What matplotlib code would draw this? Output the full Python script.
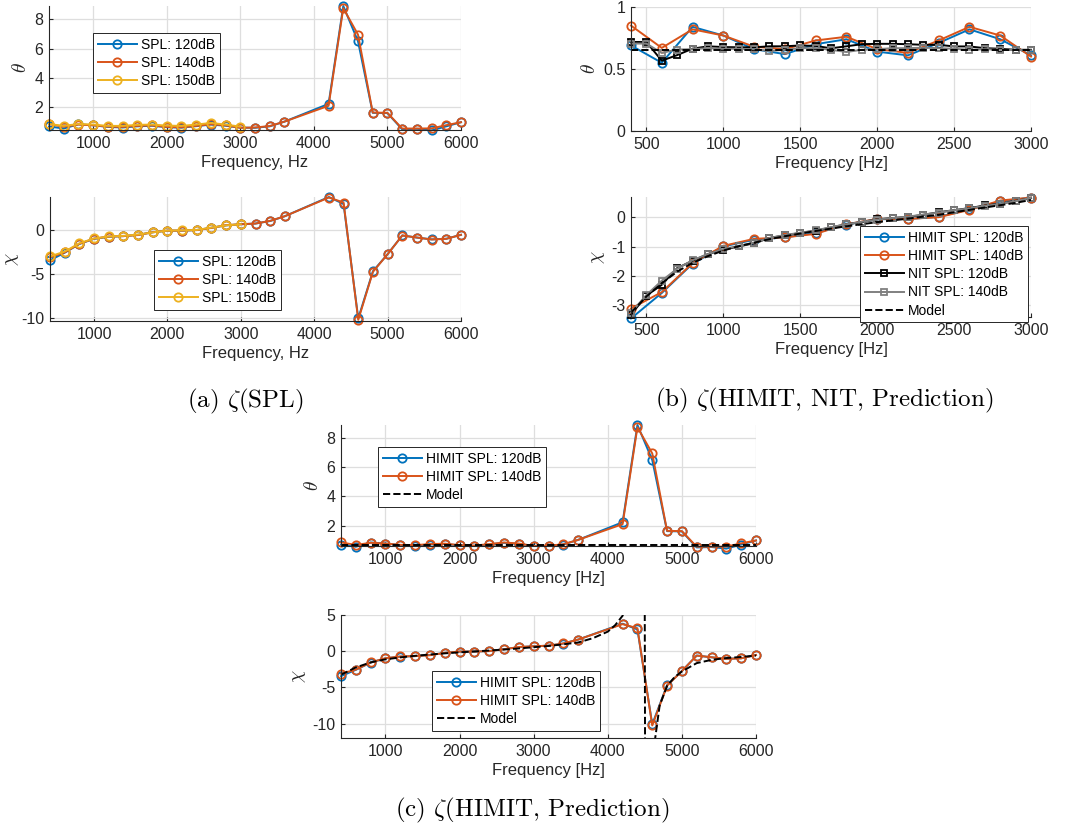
import matplotlib
matplotlib.use('Agg')
import matplotlib.pyplot as plt
from matplotlib.ticker import FormatStrFormatter

plt.rcParams['font.family'] = ['Liberation Sans', 'DejaVu Sans']
plt.rcParams['mathtext.fontset'] = 'cm'
plt.rcParams['axes.unicode_minus'] = False

# HIMIT frequencies (no points at 3800 and 4000 Hz)
f_himit = [400, 600, 800, 1000, 1200, 1400, 1600, 1800, 2000, 2200, 2400, 2600, 2800, 3000,
           3200, 3400, 3600, 4200, 4400, 4600, 4800, 5000, 5200, 5400, 5600, 5800, 6000]
theta_120 = [0.69, 0.55, 0.84, 0.77, 0.66, 0.62, 0.70, 0.74, 0.64, 0.61, 0.71, 0.82, 0.74, 0.61,
             0.60, 0.70, 1.02, 2.23, 8.90, 6.50, 1.62, 1.60, 0.50, 0.53, 0.42, 0.70, 0.98]
theta_140 = [0.85, 0.67, 0.82, 0.77, 0.68, 0.66, 0.73, 0.76, 0.66, 0.63, 0.73, 0.84, 0.77, 0.60,
             0.62, 0.72, 1.02, 2.10, 8.75, 6.95, 1.64, 1.62, 0.55, 0.55, 0.56, 0.78, 0.98]
chi_120 = [-3.45, -2.58, -1.58, -0.99, -0.76, -0.68, -0.53, -0.24, -0.06, -0.05, 0.02, 0.28, 0.55, 0.68,
           0.76, 1.05, 1.60, 3.80, 3.00, -10.10, -4.70, -2.75, -0.60, -0.85, -1.05, -0.98, -0.53]
chi_140 = [-3.11, -2.55, -1.56, -0.97, -0.73, -0.68, -0.56, -0.23, -0.05, -0.05, 0.01, 0.26, 0.58, 0.68,
           0.76, 1.07, 1.60, 3.74, 3.17, -10.27, -4.77, -2.75, -0.61, -0.84, -1.07, -0.99, -0.53]
n_low = 14  # HIMIT points up to 3000 Hz, used in (b)

# 150 dB only measured up to 3000 Hz
f_150 = [400, 600, 800, 1000, 1200, 1400, 1600, 1800, 2000, 2200, 2400, 2600, 2800, 3000]
theta_150 = [0.86, 0.73, 0.86, 0.82, 0.73, 0.73, 0.80, 0.82, 0.75, 0.73, 0.82, 0.93, 0.82, 0.68]
chi_150 = [-3.0, -2.45, -1.5, -0.95, -0.72, -0.65, -0.5, -0.25, -0.05, -0.02, 0.03, 0.3, 0.55, 0.68]

# NIT data
f_nit = [400, 500, 600, 700, 800, 900, 1000, 1100, 1200, 1300, 1400, 1500, 1600, 1700,
         1800, 1900, 2000, 2100, 2200, 2300, 2400, 2500, 2600, 2700, 2800, 2900, 3000]
nit_theta_120 = [0.718, 0.718, 0.567, 0.612, 0.664, 0.683, 0.677, 0.675, 0.675, 0.683, 0.683, 0.690, 0.686, 0.667,
                 0.683, 0.700, 0.703, 0.703, 0.700, 0.695, 0.695, 0.682, 0.682, 0.668, 0.663, 0.655, 0.655]
nit_theta_140 = [0.705, 0.705, 0.630, 0.657, 0.660, 0.668, 0.663, 0.663, 0.660, 0.645, 0.655, 0.668, 0.668, 0.655,
                 0.637, 0.655, 0.660, 0.668, 0.668, 0.672, 0.668, 0.663, 0.655, 0.660, 0.655, 0.655, 0.650]
nit_chi_120 = [-3.32, -2.67, -2.30, -1.73, -1.48, -1.25, -1.10, -0.99, -0.88, -0.70, -0.61, -0.53, -0.45, -0.34,
               -0.23, -0.16, -0.06, -0.02, 0.02, 0.09, 0.18, 0.25, 0.32, 0.41, 0.47, 0.57, 0.66]
nit_chi_140 = [-3.25, -2.65, -2.16, -1.75, -1.46, -1.25, -1.08, -0.97, -0.86, -0.70, -0.60, -0.52, -0.44, -0.33,
               -0.23, -0.15, -0.07, -0.02, 0.03, 0.10, 0.17, 0.25, 0.31, 0.40, 0.46, 0.56, 0.67]

# model (prediction)
model_f_b = [400, 500, 600, 700, 800, 900, 1000, 1100, 1200, 1300, 1400, 1500, 1600, 1700,
             1800, 1900, 2000, 2100, 2200, 2300, 2400, 2500, 2600, 2700, 2800, 2900, 3000]
model_chi_b = [-3.25, -2.70, -2.25, -1.85, -1.55, -1.32, -1.13, -0.98, -0.86, -0.74, -0.64, -0.55, -0.46, -0.38,
               -0.30, -0.23, -0.16, -0.10, -0.04, 0.03, 0.09, 0.18, 0.26, 0.34, 0.42, 0.50, 0.60]
model_theta_f = [400, 6000]
model_theta = [0.655, 0.655]
model_f_c = [400, 600, 800, 1000, 1200, 1400, 1600, 1800, 2000, 2200, 2400, 2600, 2800, 3000,
             3200, 3400, 3600, 3800, 4000, 4100, 4200, 4300, 4400, 4480, 4520, 4600, 4640, 4700,
             4800, 4900, 5000, 5200, 5400, 5600, 5800, 6000]
model_chi_c = [-3.25, -2.25, -1.55, -1.13, -0.86, -0.64, -0.46, -0.30, -0.16, -0.04, 0.09, 0.23, 0.38, 0.55,
               0.72, 0.95, 1.20, 1.80, 2.70, 3.60, 4.90, 8.5, 18, 90, -90, -18, -12, -7.5,
               -4.8, -3.6, -2.8, -1.65, -1.2, -0.95, -0.8, -0.6]

BLUE = '#0072BD'
ORANGE = '#D95319'
YELLOW = '#EDB120'
GRAY = '#808080'
AX = '#262626'

W, H = 1070, 834
fig = plt.figure(figsize=(W / 100, H / 100), dpi=100)


def make_ax(l, t, r, b):
    ax = fig.add_axes([l / W, 1 - b / H, (r - l) / W, (b - t) / H])
    ax.grid(True, color='#dedede', lw=0.9)
    ax.set_axisbelow(True)
    for s in ['top', 'right']:
        ax.spines[s].set_visible(False)
    for s in ['left', 'bottom']:
        ax.spines[s].set_color(AX)
        ax.spines[s].set_linewidth(0.8)
    ax.tick_params(direction='in', length=3, width=0.8, colors=AX, labelsize=11.5, pad=4)
    return ax


def labels(ax, xlab, ylab, ypad=3):
    ax.set_xlabel(xlab, fontsize=12, color=AX, labelpad=3)
    ax.set_ylabel(ylab, fontsize=14, color=AX, labelpad=ypad)


def circ(ax, x, y, c, label):
    ax.plot(x, y, '-o', color=c, lw=1.4, ms=6, mfc='none', mew=1.3, label=label, clip_on=False)


def square(ax, x, y, c, label):
    ax.plot(x, y, '-s', color=c, lw=1.4, ms=4.5, mfc='none', mew=1.3, label=label, clip_on=False)


def legend(ax, x, y):
    lg = ax.legend(loc='upper left', bbox_to_anchor=(x / W, 1 - y / H), bbox_transform=fig.transFigure,
                   borderaxespad=0, fancybox=False, framealpha=1, edgecolor=AX, fontsize=10,
                   handlelength=2.8, labelspacing=0.3, borderpad=0.35, handletextpad=0.3)
    lg.get_frame().set_linewidth(0.7)


# (a) top
ax = make_ax(49, 6, 461, 130)
circ(ax, f_himit, theta_120, BLUE, 'SPL: 120dB')
circ(ax, f_himit, theta_140, ORANGE, 'SPL: 140dB')
circ(ax, f_150, theta_150, YELLOW, 'SPL: 150dB')
ax.set_xlim(400, 6000)
ax.set_ylim(0.45, 8.9)
ax.set_xticks([1000, 2000, 3000, 4000, 5000, 6000])
ax.set_yticks([2, 4, 6, 8])
labels(ax, 'Frequency, Hz', r'$\theta$')
legend(ax, 93, 33)

# (a) bottom
ax = make_ax(50, 197, 461, 321)
circ(ax, f_himit, chi_120, BLUE, 'SPL: 120dB')
circ(ax, f_himit, chi_140, ORANGE, 'SPL: 140dB')
circ(ax, f_150, chi_150, YELLOW, 'SPL: 150dB')
ax.set_xlim(400, 6000)
ax.set_ylim(-10.4, 3.8)
ax.set_xticks([1000, 2000, 3000, 4000, 5000, 6000])
ax.set_yticks([-10, -5, 0])
labels(ax, 'Frequency, Hz', r'$\chi$', ypad=0)
legend(ax, 154, 250)

# (b) top
ax = make_ax(631, 7, 1031, 131)
circ(ax, f_himit[:n_low], theta_120[:n_low], BLUE, 'HIMIT SPL: 120dB')
circ(ax, f_himit[:n_low], theta_140[:n_low], ORANGE, 'HIMIT SPL: 140dB')
square(ax, f_nit, nit_theta_120, 'black', 'NIT SPL: 120dB')
square(ax, f_nit, nit_theta_140, GRAY, 'NIT SPL: 140dB')
ax.plot(model_theta_f, model_theta, '--', color='black', lw=1.4, label='Model')
ax.set_xlim(400, 3000)
ax.set_ylim(0, 1)
ax.set_xticks([500, 1000, 1500, 2000, 2500, 3000])
ax.set_yticks([0, 0.5, 1])
ax.yaxis.set_major_formatter(FormatStrFormatter('%g'))
labels(ax, 'Frequency [Hz]', r'$\theta$')

# (b) bottom
ax = make_ax(631, 197, 1031, 317)
circ(ax, f_himit[:n_low], chi_120[:n_low], BLUE, 'HIMIT SPL: 120dB')
circ(ax, f_himit[:n_low], chi_140[:n_low], ORANGE, 'HIMIT SPL: 140dB')
square(ax, f_nit, nit_chi_120, 'black', 'NIT SPL: 120dB')
square(ax, f_nit, nit_chi_140, GRAY, 'NIT SPL: 140dB')
ax.plot(model_f_b, model_chi_b, '--', color='black', lw=1.4, label='Model')
ax.set_xlim(400, 3000)
ax.set_ylim(-3.4, 0.7)
ax.set_xticks([500, 1000, 1500, 2000, 2500, 3000])
ax.set_yticks([-3, -2, -1, 0])
labels(ax, 'Frequency [Hz]', r'$\chi$')
legend(ax, 860, 226)

# (c) top
ax = make_ax(341, 425, 756, 546)
circ(ax, f_himit, theta_120, BLUE, 'HIMIT SPL: 120dB')
circ(ax, f_himit, theta_140, ORANGE, 'HIMIT SPL: 140dB')
ax.plot(model_theta_f, model_theta, '--', color='black', lw=1.4, label='Model')
ax.set_xlim(400, 6000)
ax.set_ylim(0.6, 8.9)
ax.set_xticks([1000, 2000, 3000, 4000, 5000, 6000])
ax.set_yticks([2, 4, 6, 8])
labels(ax, 'Frequency [Hz]', r'$\theta$')
legend(ax, 378, 447)

# (c) bottom
ax = make_ax(341, 615, 756, 738)
circ(ax, f_himit, chi_120, BLUE, 'HIMIT SPL: 120dB')
circ(ax, f_himit, chi_140, ORANGE, 'HIMIT SPL: 140dB')
ax.plot(model_f_c, model_chi_c, '--', color='black', lw=1.4, label='Model')
ax.set_xlim(400, 6000)
ax.set_ylim(-12, 5)
ax.set_xticks([1000, 2000, 3000, 4000, 5000, 6000])
ax.set_yticks([-10, -5, 0, 5])
labels(ax, 'Frequency [Hz]', r'$\chi$')
legend(ax, 432, 671)

# captions
cap = dict(fontsize=18, family='cmr10', ha='center', va='center')
fig.text(245 / W, 1 - 401 / H, r'(a) $\zeta$(SPL)', **cap)
fig.text(824 / W, 1 - 400 / H, r'(b) $\zeta$(HIMIT, NIT, Prediction)', **cap)
fig.text(532 / W, 1 - 810 / H, r'(c) $\zeta$(HIMIT, Prediction)', **cap)

fig.savefig('out.png', dpi=100)
